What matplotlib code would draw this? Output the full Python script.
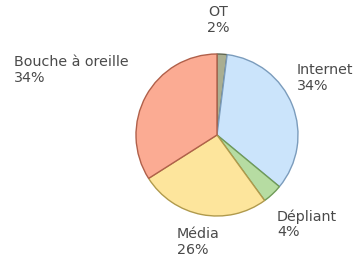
import matplotlib.pyplot as plt

labels = ['OT', 'Internet', 'Dépliant', 'Média', 'Bouche à oreille']
values = [2, 34, 4, 26, 34]
colors = ['#a9ae91', '#cbe4fb', '#b6dca2', '#fde59c', '#fbab93']
edges = ['#5f6650', '#7b9cbc', '#6f9b58', '#b09a4c', '#b0604a']

H = 258
# label anchor (pixels from top-left) and alignment
label_pos = [(218, 20, 'center'), (297, 78, 'left'), (277, 224, 'left'),
             (177, 242, 'left'), (14, 70, 'left')]

fig = plt.figure(figsize=(3.55, 2.58), dpi=100)
ax = fig.add_axes([0, 0, 1, 1])

wedges, _ = ax.pie(values, colors=colors, startangle=90, counterclock=False,
                   center=(217, H - 135), radius=81, frame=True,
                   wedgeprops=dict(linewidth=1.0))
for w, ec in zip(wedges, edges):
    w.set_edgecolor(ec)
ax.set_xlim(0, 355)
ax.set_ylim(0, H)
ax.set_aspect('auto')
ax.axis('off')

for lab, v, (x, y, ha) in zip(labels, values, label_pos):
    ax.text(x, H - y, f'{lab}\n{v}%', ha=ha, va='center', fontsize=10.3,
            color='#4a4a4a', family='DejaVu Sans', linespacing=1.13)

fig.savefig('out.png', dpi=100)
